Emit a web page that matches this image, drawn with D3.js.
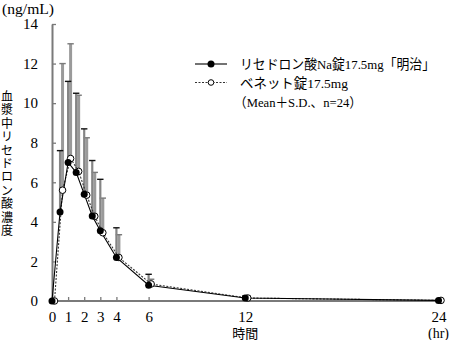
<!DOCTYPE html>
<html><head><meta charset="utf-8">
<script src="https://cdn.jsdelivr.net/npm/d3@7"></script>
<style>
html,body{margin:0;padding:0;background:#fff;}
text{font-family:"Liberation Serif","Noto Sans CJK JP",serif;fill:#000;}
</style></head>
<body>
<svg id="chart" width="450" height="340"></svg>
<script>
// ---- data ----
const times = [0, 0.5, 1, 1.5, 2, 2.5, 3, 4, 6, 12, 24];
const meijiMean = [0, 4.5, 7.0, 6.5, 5.4, 4.3, 3.55, 2.2, 0.8, 0.15, 0.03];
const meijiUpper = [0, 7.6, 11.1, 10.5, 8.7, 7.1, 6.15, 3.7, 1.35, 0.25, 0.05];
const benetMean = [0, 5.6, 7.2, 6.55, 5.35, 4.28, 3.45, 2.2, 0.86, 0.15, 0.03];
const benetUpper = [0, 12.0, 13.0, 10.4, 8.25, 6.5, 5.2, 3.35, 1.1, 0.25, 0.05];
const xTicks = [0, 1, 2, 3, 4, 6, 12, 24];
const yTicks = [0, 2, 4, 6, 8, 10, 12, 14];
const seriesNames = ["リセドロン酸Na錠17.5mg「明治」", "ベネット錠17.5mg"];
const legendNote = "（Mean＋S.D.、n=24）";
const yTitle = "血漿中リセドロン酸濃度";
const yUnit = "(ng/mL)";
const xTitle = "時間";
const xUnit = "(hr)";

// ---- layout ----
const svg = d3.select("#chart");
const x = d3.scaleLinear().domain([0, 24]).range([52, 438.5]);
const y = d3.scaleLinear().domain([0, 14]).range([301, 24]);
const benetShift = 2.5; // px offset used in the original to separate the series
const axisColor = "#7a7a7a";

// error bars
function bars(mean, upper, dx, stroke, width, capColor) {
  const g = svg.append("g");
  times.forEach((t, i) => {
    if (upper[i] - mean[i] < 0.08) return;
    const cx = x(t) + dx;
    g.append("line").attr("x1", cx).attr("x2", cx)
      .attr("y1", y(mean[i])).attr("y2", y(upper[i]))
      .attr("stroke", stroke).attr("stroke-width", width);
    g.append("line").attr("x1", cx - 3.2).attr("x2", cx + 3.2)
      .attr("y1", y(upper[i])).attr("y2", y(upper[i]))
      .attr("stroke", capColor).attr("stroke-width", 1.4);
  });
}
bars(benetMean, benetUpper, benetShift, "#9a9a9a", 3, "#7a7a7a");
bars(meijiMean, meijiUpper, 0, "#858585", 2.2, "#111");

// axes
const yAxis = d3.axisLeft(y).tickValues(yTicks).tickSizeInner(-4).tickSizeOuter(0).tickPadding(14);
const gy = svg.append("g").attr("transform", `translate(${x(0)},0)`).call(yAxis);
gy.select(".domain").attr("stroke", axisColor).attr("stroke-width", 2);
gy.selectAll(".tick line").attr("stroke", axisColor).attr("stroke-width", 1.3);
gy.selectAll(".tick text").attr("font-size", 15).attr("font-family", "Liberation Serif").attr("fill", "#000");

const xAxis = d3.axisBottom(x).tickValues(xTicks).tickSizeInner(-4).tickSizeOuter(0).tickPadding(10);
const gx = svg.append("g").attr("transform", `translate(0,${y(0)})`).call(xAxis);
gx.select(".domain").attr("d", `M${x(0)},0H${x(24) + 3}`).attr("stroke", axisColor).attr("stroke-width", 2);
gx.selectAll(".tick line").attr("stroke", axisColor).attr("stroke-width", 1.3);
gx.selectAll(".tick text").attr("font-size", 15).attr("font-family", "Liberation Serif").attr("fill", "#000");

// lines
const lineM = d3.line().x((d, i) => x(times[i])).y(d => y(d));
const lineB = d3.line().x((d, i) => x(times[i]) + benetShift).y(d => y(d));
svg.append("path").attr("d", lineB(benetMean)).attr("fill", "none")
  .attr("stroke", "#333").attr("stroke-width", 1.1).attr("stroke-dasharray", "2,1.5");
svg.append("path").attr("d", lineM(meijiMean)).attr("fill", "none")
  .attr("stroke", "#000").attr("stroke-width", 1.1);

// points
svg.append("g").selectAll("circle").data(benetMean).join("circle")
  .attr("cx", (d, i) => x(times[i]) + benetShift).attr("cy", d => y(d)).attr("r", 3.3)
  .attr("fill", "#fff").attr("stroke", "#000").attr("stroke-width", 1);
svg.append("g").selectAll("circle").data(meijiMean).join("circle")
  .attr("cx", (d, i) => x(times[i])).attr("cy", d => y(d)).attr("r", 3.5)
  .attr("fill", "#000");

// legend
const lg = svg.append("g");
lg.append("line").attr("x1", 195).attr("x2", 227).attr("y1", 64).attr("y2", 64).attr("stroke", "#000").attr("stroke-width", 1.1);
lg.append("circle").attr("cx", 211).attr("cy", 64).attr("r", 3.5).attr("fill", "#000");
lg.append("text").attr("x", 240).attr("y", 69).attr("font-size", 13.5)
  .attr("textLength", 195).attr("lengthAdjust", "spacingAndGlyphs").text(seriesNames[0]);
lg.append("line").attr("x1", 195).attr("x2", 227).attr("y1", 82.5).attr("y2", 82.5).attr("stroke", "#333").attr("stroke-width", 1).attr("stroke-dasharray", "2,1.5");
lg.append("circle").attr("cx", 211).attr("cy", 82.5).attr("r", 2.8).attr("fill", "#fff").attr("stroke", "#000");
lg.append("text").attr("x", 240).attr("y", 87.5).attr("font-size", 13.5)
  .attr("textLength", 108).attr("lengthAdjust", "spacingAndGlyphs").text(seriesNames[1]);
lg.append("text").attr("x", 234).attr("y", 106.5).attr("font-size", 13.5)
  .attr("textLength", 128).attr("lengthAdjust", "spacingAndGlyphs").text(legendNote);

// titles
svg.append("text").attr("x", 2).attr("y", 14).attr("font-size", 14)
  .attr("textLength", 52).attr("lengthAdjust", "spacingAndGlyphs").text(yUnit);
const yt = svg.append("text").attr("font-size", 12).attr("text-anchor", "middle");
Array.from(yTitle).forEach((ch, i) => {
  yt.append("tspan").attr("x", 7).attr("y", 101 + i * 13.4).text(ch);
});
svg.append("text").attr("x", x(12)).attr("y", 338).attr("font-size", 13).attr("text-anchor", "middle").text(xTitle);
svg.append("text").attr("x", 449).attr("y", 338).attr("font-size", 14).attr("text-anchor", "end").text(xUnit);
</script>
</body></html>
